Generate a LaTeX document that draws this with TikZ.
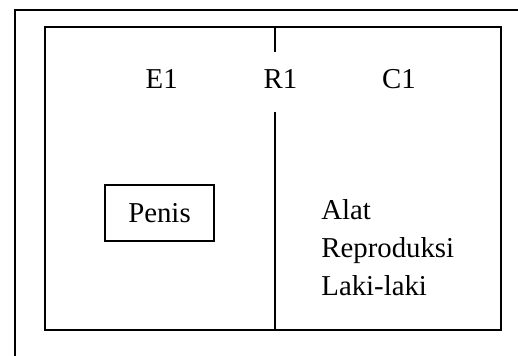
\documentclass[tikz,border=0pt]{standalone}
\usepackage{fontspec}
\setmainfont{Liberation Serif}
\usetikzlibrary{positioning}

\begin{document}
\begin{tikzpicture}[
    x=0.5pt, y=0.5pt,
    font=\fontsize{14.4}{19.2}\selectfont,
    frame/.style={draw, line width=1pt},
    lbl/.style={inner sep=0pt, anchor=base},
    organ/.style={draw, line width=1pt, minimum width=54.5pt, minimum height=28pt, inner sep=0pt}
]
    \useasboundingbox (0,0) rectangle (518,356);
    % outer frame, cut off by the page edge
    \draw[frame] (15,-10) -- (15,346) -- (530,346);

    \node[frame, minimum width=228pt, minimum height=151.5pt, inner sep=0pt] (box) at (273,177.5) {};

    \node[lbl] (e1) at (161.7,267) {E1};
    \node[lbl] (r1) at (280.5,267) {R1};
    \node[lbl] (c1) at (399,267) {C1};

    % divider, broken round R1
    \coordinate (divtop) at (275,304);
    \coordinate (divbot) at (275,244);
    \draw[frame] (box.north -| divtop) -- (divtop);
    \draw[frame] (divbot) -- (box.south -| divbot);

    \node[organ] (penis) at (159.5,143) {Penis};
    % base of a multi-line node sits on its last line
    \node[inner sep=0pt, anchor=base west, align=left] (alat) at (321,60) {Alat\\Reproduksi\\Laki-laki};
\end{tikzpicture}
\end{document}
